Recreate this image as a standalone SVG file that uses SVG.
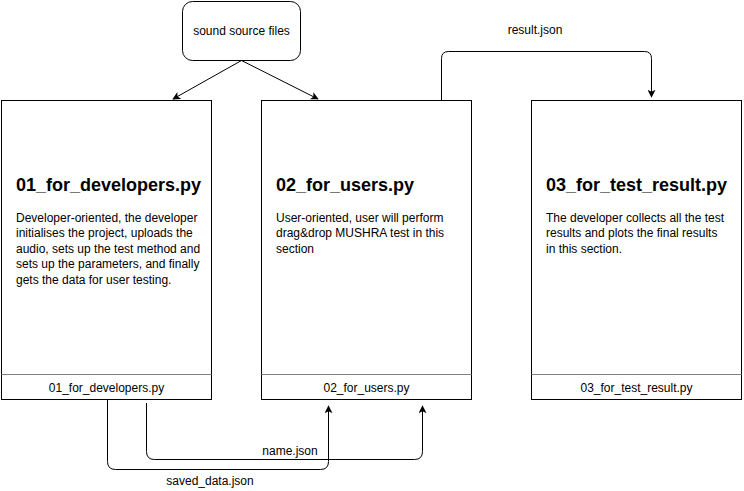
<svg xmlns="http://www.w3.org/2000/svg" width="744" height="491" viewBox="0 0 744 491">
  <style>
    .box { fill: #ffffff; stroke: #000000; stroke-width: 1; }
    .divider { stroke: #808080; stroke-width: 1; fill: none; }
    .edge { fill: none; stroke: #000000; stroke-width: 1; }
    text { font-family: "Liberation Sans", Arial, Helvetica, sans-serif; fill: #000000; }
    .title { font-size: 18px; font-weight: bold; }
    .body { font-size: 12px; }
    .label { font-size: 12px; text-anchor: middle; }
  </style>
  <defs>
    <marker id="arrow" viewBox="0 0 10 10" refX="9" refY="5" markerWidth="8" markerHeight="8" markerUnits="userSpaceOnUse" orient="auto">
      <path d="M0,0 L10,5 L0,10 L2.5,5 Z" fill="#000000"/>
    </marker>
  </defs>

  <rect width="744" height="491" fill="#ffffff"/>

  <!-- connectors -->
  <g id="connectors">
    <path class="edge" d="M241.5,60.5 L173,99" marker-end="url(#arrow)"/>
    <path class="edge" d="M241.5,60.5 L318,99" marker-end="url(#arrow)"/>
    <path class="edge" d="M441.5,100 V58.5 Q441.5,51.5 448.5,51.5 H644.5 Q651.5,51.5 651.5,58.5 V97" marker-end="url(#arrow)"/>
    <text class="label" x="535" y="34">result.json</text>
    <path class="edge" d="M107.5,400 V461.5 Q107.5,469.5 115.5,469.5 H320.5 Q328.5,469.5 328.5,461.5 V406" marker-end="url(#arrow)"/>
    <text class="label" x="210" y="485">saved_data.json</text>
    <path class="edge" d="M146.5,403 V451.5 Q146.5,459.5 154.5,459.5 H414.5 Q422.5,459.5 422.5,451.5 V406" marker-end="url(#arrow)"/>
    <text class="label" x="290" y="455">name.json</text>
  </g>

  <!-- source node -->
  <g id="sound-source">
    <rect class="box" x="182.5" y="1.5" width="118" height="59" rx="10" ry="10"/>
    <text class="label" x="241.5" y="35">sound source files</text>
  </g>

  <!-- developer script -->
  <g id="for-developers">
    <rect class="box" x="1.5" y="100.5" width="210" height="299"/>
    <line class="divider" x1="1.5" y1="374.5" x2="211.5" y2="374.5"/>
    <text class="title" x="16" y="190.5">01_for_developers.py</text>
    <text class="body" x="16" y="221.5">Developer-oriented, the developer</text>
    <text class="body" x="16" y="237">initialises the project, uploads the</text>
    <text class="body" x="16" y="252.5">audio, sets up the test method and</text>
    <text class="body" x="16" y="268">sets up the parameters, and finally</text>
    <text class="body" x="16" y="283.5">gets the data for user testing.</text>
    <text class="label" x="106.5" y="392">01_for_developers.py</text>
  </g>

  <!-- user script -->
  <g id="for-users">
    <rect class="box" x="261.5" y="100.5" width="210" height="299"/>
    <line class="divider" x1="261.5" y1="374.5" x2="471.5" y2="374.5"/>
    <text class="title" x="276" y="190.5">02_for_users.py</text>
    <text class="body" x="276" y="221.5">User-oriented, user will perform</text>
    <text class="body" x="276" y="237">drag&amp;drop MUSHRA test in this</text>
    <text class="body" x="276" y="252.5">section</text>
    <text class="label" x="366.5" y="392">02_for_users.py</text>
  </g>

  <!-- result script -->
  <g id="for-test-result">
    <rect class="box" x="531.5" y="100.5" width="210" height="299"/>
    <line class="divider" x1="531.5" y1="374.5" x2="741.5" y2="374.5"/>
    <text class="title" x="546" y="190.5">03_for_test_result.py</text>
    <text class="body" x="546" y="221.5">The developer collects all the test</text>
    <text class="body" x="546" y="237">results and plots the final results</text>
    <text class="body" x="546" y="252.5">in this section.</text>
    <text class="label" x="636.5" y="392">03_for_test_result.py</text>
  </g>
</svg>
